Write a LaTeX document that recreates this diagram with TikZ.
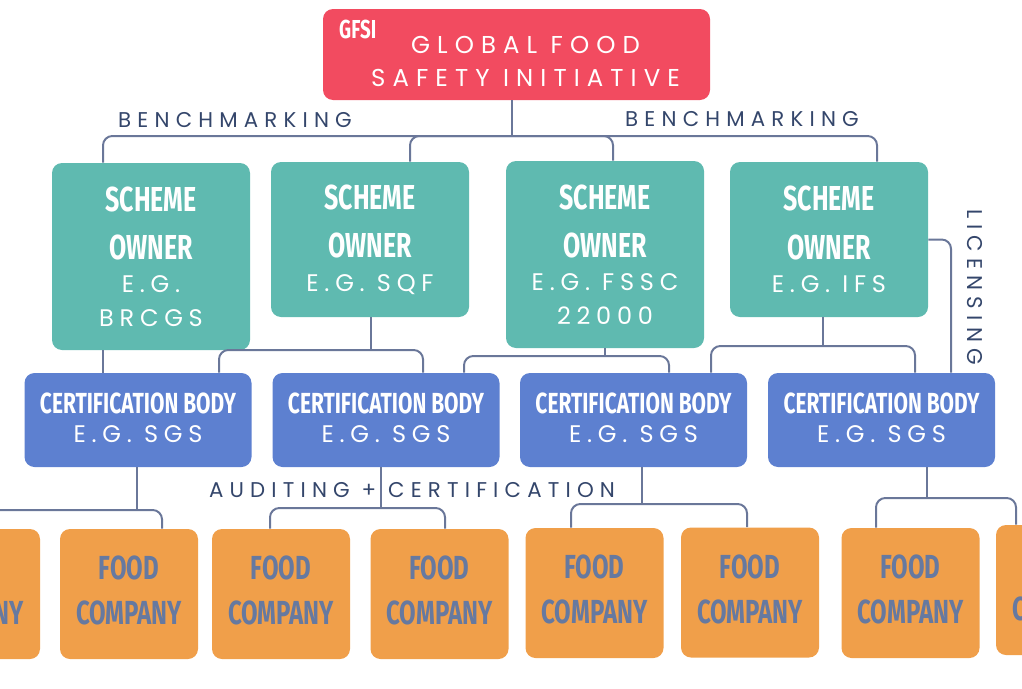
\documentclass[tikz,border=0pt]{standalone}
\usepackage{fontspec}
\usepackage{xcolor}
\usepackage{tikz}
\usetikzlibrary{positioning, calc}

\definecolor{gfsired}{HTML}{F24B60}
\definecolor{schemeteal}{HTML}{5FBAB0}
\definecolor{certblue}{HTML}{5D80D0}
\definecolor{foodorange}{HTML}{F09F4A}
\definecolor{linkgrey}{HTML}{6A7799}
\definecolor{labelnavy}{HTML}{34466B}
\definecolor{foodtext}{HTML}{6679A0}

\newfontfamily\condfont[FakeStretch=0.72]{Fira Sans}
\newfontfamily\widefont[LetterSpace=24]{Poppins}
\newfontfamily\titlefont[LetterSpace=29]{Poppins}
\newcommand{\headfont}{\condfont\bfseries\fontsize{26}{26}\selectfont}
\newcommand{\certfont}{\condfont\bfseries\fontsize{21.8}{22}\selectfont}

\begin{document}
\begin{tikzpicture}[x=0.75pt, y=-0.75pt,
    box/.style={rectangle, rounded corners=7.5pt, inner sep=0pt, align=center},
    gfsibox/.style={box, fill=gfsired, minimum width=290.25pt, minimum height=68.25pt},
    schemebox/.style={box, fill=schemeteal, text=white, minimum width=148.5pt, font=\widefont\fontsize{18}{25}\selectfont},
    certbox/.style={box, fill=certblue, text=white, minimum width=170.25pt, minimum height=70.5pt, text height=33.8pt, text depth=0pt, font=\widefont\fontsize{18}{22}\selectfont},
    foodbox/.style={box, fill=foodorange, text=foodtext, minimum width=103.5pt, minimum height=97.5pt, text height=45.8pt, text depth=0pt, font=\condfont\bfseries\fontsize{25}{33.75}\selectfont},
    link/.style={draw=linkgrey, line width=1.5pt, rounded corners=7pt},
    steplabel/.style={text=labelnavy, font=\titlefont\fontsize{16}{20}\selectfont, inner sep=0pt}]
    \useasboundingbox (0,0) rectangle (1022,689);
    \clip (0,0) rectangle (1022,689);

    % GFSI
    \node (gfsi) [gfsibox] at (516.5,54.5) {};
    \node (gfsiname) [text=white, align=center, inner sep=0pt, font=\titlefont\fontsize{18.3}{24.75}\selectfont] at ($(gfsi.center)+(9,7)$) {GLOBAL FOOD\\SAFETY INITIATIVE};
    \node (gfsitag) [text=white, inner sep=0pt, font=\condfont\bfseries\fontsize{19.5}{20}\selectfont] at ($(gfsi.north west)+(35,21)$) {GFSI};

    % scheme owners
    \node (so1) [schemebox, minimum height=140.25pt] at (151,256.5) {{\headfont SCHEME}\\[11.25pt]{\headfont OWNER}\\E.G.\\BRCGS};
    \node (so2) [schemebox, minimum height=116.25pt] at (370,239.5) {{\headfont SCHEME}\\[11.25pt]{\headfont OWNER}\\E.G. SQF};
    \node (so3) [schemebox, minimum height=140.25pt] at (605,254.5) {{\headfont SCHEME}\\[11.25pt]{\headfont OWNER}\\E.G. FSSC\\22000};
    \node (so4) [schemebox, minimum height=116.25pt] at (829,239.5) {{\headfont SCHEME}\\[11.25pt]{\headfont OWNER}\\E.G. IFS};

    % certification bodies
    \node (cb1) [certbox] at (138,420) {{\certfont CERTIFICATION BODY}\\E.G. SGS};
    \node (cb2) [certbox] at (386,420) {{\certfont CERTIFICATION BODY}\\E.G. SGS};
    \node (cb3) [certbox] at (633.5,420) {{\certfont CERTIFICATION BODY}\\E.G. SGS};
    \node (cb4) [certbox] at (881.5,420) {{\certfont CERTIFICATION BODY}\\E.G. SGS};

    % food companies
    \node (fc1) [foodbox] at (-29,594) {FOOD\\COMPANY};
    \node (fc2) [foodbox] at (129,594) {FOOD\\COMPANY};
    \node (fc3) [foodbox] at (281,594) {FOOD\\COMPANY};
    \node (fc4) [foodbox] at (439.5,594) {FOOD\\COMPANY};
    \node (fc5) [foodbox] at (594.5,593) {FOOD\\COMPANY};
    \node (fc6) [foodbox] at (750,592.5) {FOOD\\COMPANY};
    \node (fc7) [foodbox] at (910.5,593) {FOOD\\COMPANY};
    \node (fc8) [foodbox] at (1065,590) {FOOD\\COMPANY};

    % benchmarking
    \coordinate (hub0) at (512,136);
    \draw [link] (hub0 |- gfsi.south) -- (hub0);
    \draw [link] ($(so1.north)+(-48,0)$) |- (hub0) -| ($(so4.north)+(48,0)$);
    \draw [link] ($(so2.north)+(40,0)$) |- (hub0) -| ($(so3.north)+(8,0)$);
    \node (bench1) [steplabel] at (235,120) {BENCHMARKING};
    \node (bench2) [steplabel] at (742,119) {BENCHMARKING};

    % scheme owner -> certification body
    \draw [link] ($(so1.south)+(-48,0)$) -- ($(cb1.north)+(-35,0)$);
    \coordinate (hub2) at (371,350);
    \draw [link] (hub2 |- so2.south) -- (hub2);
    \draw [link] ($(cb1.north)+(81,0)$) |- (hub2) -| ($(cb2.north)+(37,0)$);
    \coordinate (hub3) at (605,356);
    \draw [link] (hub3 |- so3.south) -- (hub3);
    \draw [link] ($(cb2.north)+(78,0)$) |- (hub3) -| ($(cb3.north)+(35.5,0)$);
    \coordinate (hub4) at (823,346);
    \draw [link] (hub4 |- so4.south) -- (hub4);
    \draw [link] ($(cb3.north)+(77.5,0)$) |- (hub4) -| ($(cb4.north)+(33.5,0)$);
    \draw [link] (so4.east) -| ($(cb4.north)+(69.5,0)$);
    \node (licensing) [steplabel, rotate=-90] at (975,287) {LICENSING};

    % certification body -> food company
    \coordinate (hub5) at (137,510);
    \draw [link] (hub5 |- cb1.south) -- (hub5);
    \draw [link] ($(fc1.north)+(10,0)$) |- (hub5) -| ($(fc2.north)+(33,0)$);
    \coordinate (hub6) at (381,508);
    \draw [link] (hub6 |- cb2.south) -- (hub6);
    \draw [link] ($(fc3.north)+(-11,0)$) |- (hub6) -| ($(fc4.north)+(5.5,0)$);
    \coordinate (hub7) at (642,504);
    \draw [link] (hub7 |- cb3.south) -- (hub7);
    \draw [link] ($(fc5.north)+(-23.5,0)$) |- (hub7) -| ($(fc6.north)+(-3,0)$);
    \coordinate (hub8) at (927,498);
    \draw [link] (hub8 |- cb4.south) -- (hub8);
    \draw [link] ($(fc7.north)+(-34.5,0)$) |- (hub8) -| ($(fc8.north)+(-49,0)$);
    \node (audit) [steplabel] at (412,490) {AUDITING + CERTIFICATION};
\end{tikzpicture}
\end{document}
